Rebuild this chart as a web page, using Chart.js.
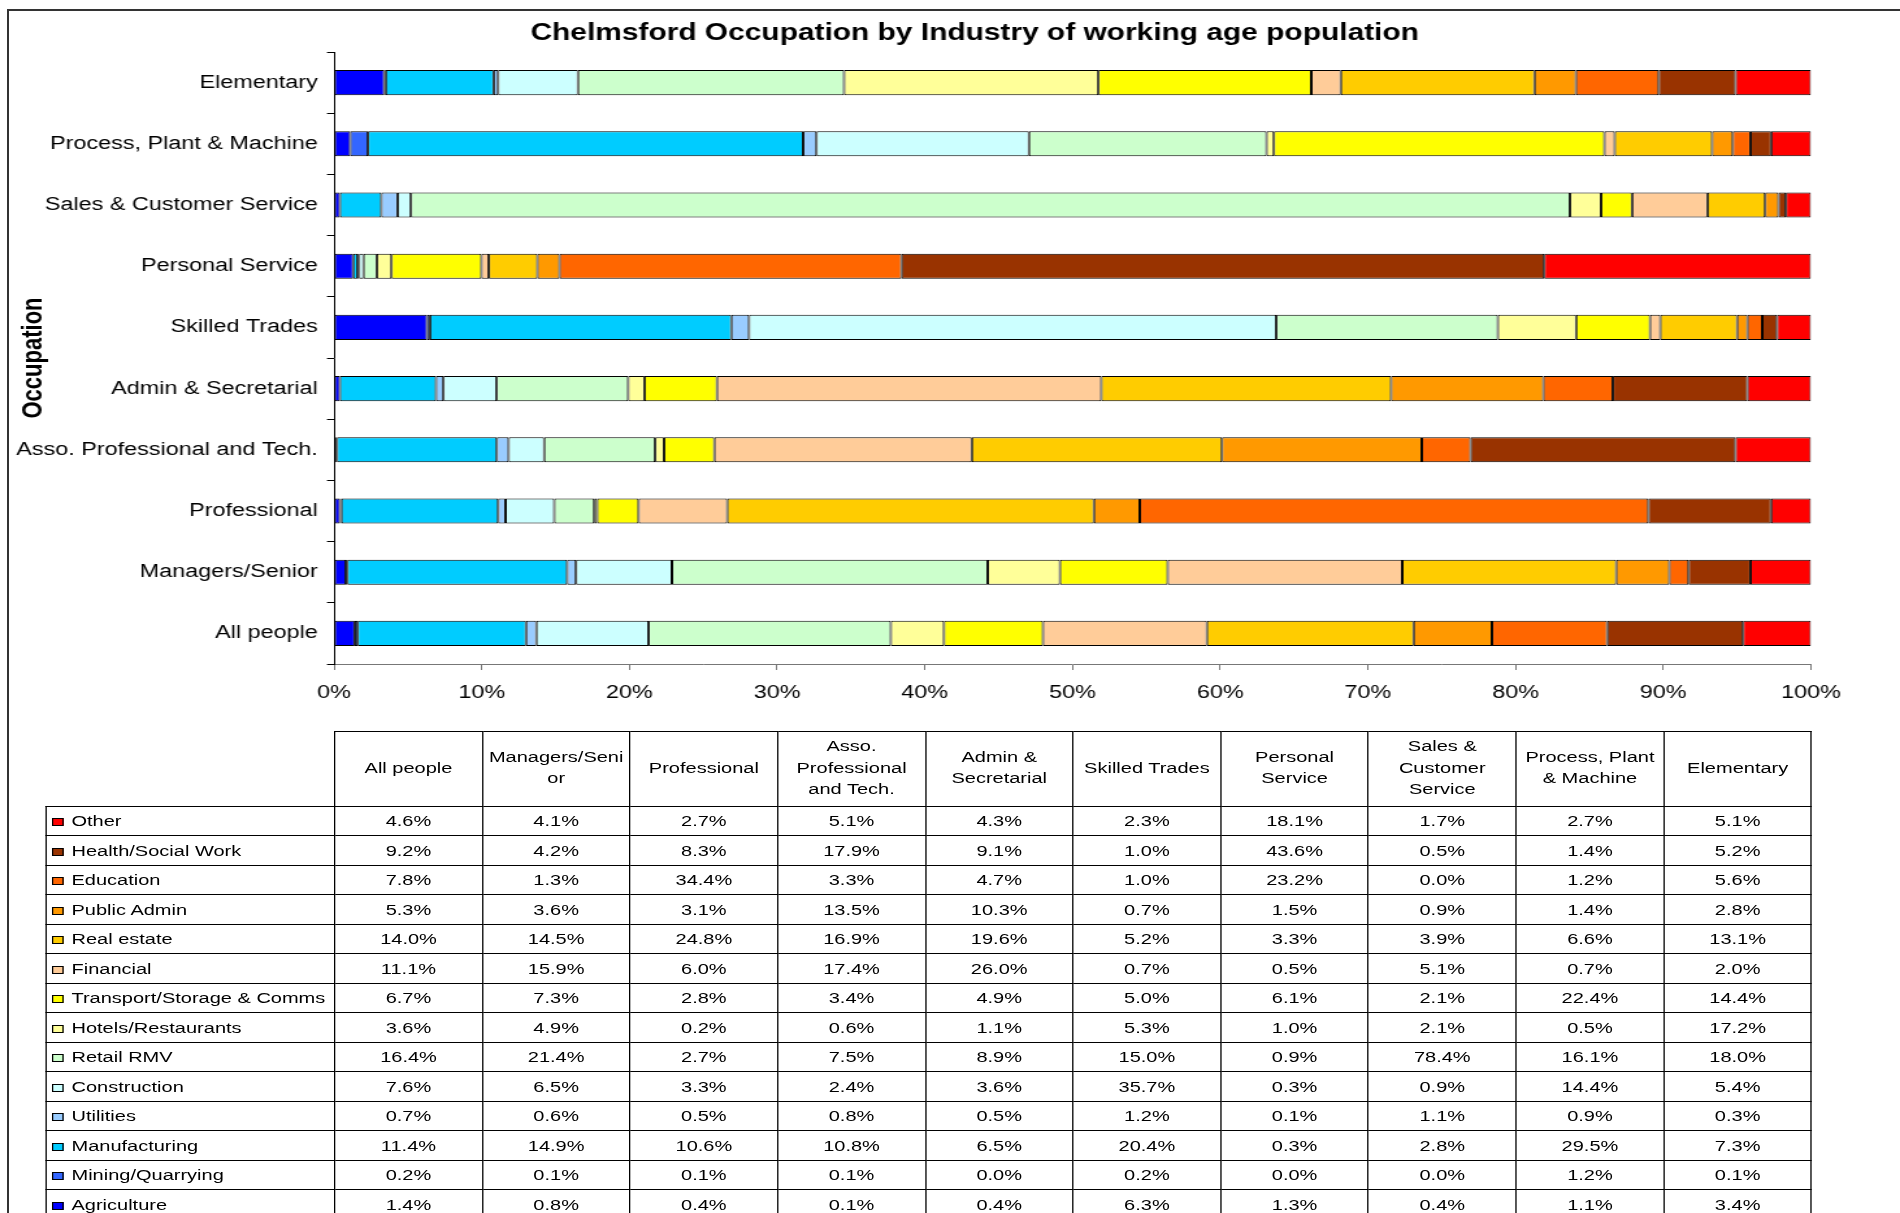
<!DOCTYPE html>
<html>
<head>
<meta charset="utf-8">
<title>Chelmsford Occupation by Industry</title>
<script src="https://cdn.jsdelivr.net/npm/chart.js@4.4.1/dist/chart.umd.min.js"></script>
<style>
    html, body { margin: 0; padding: 0; background: #fff; overflow: hidden; width: 1900px; height: 1213px; }
    /* outer chart frame (only top and left edges are visible in the picture) */
    #frame { position: absolute; left: 7px; top: 9px; width: 2000px; height: 1400px;
             border-left: 2px solid #333; border-top: 2px solid #333; }
    /* the original picture is stretched horizontally, so stretch the whole drawing */
    #stretch { position: absolute; left: 0; top: 0; width: 1462px; height: 1213px;
               transform: scaleX(1.29959); transform-origin: 0 0; }
    #chart { position: absolute; left: 0; top: 0; }
    #dataTable { position: absolute; left: 35px; top: 731px; border-collapse: collapse; table-layout: fixed;
                 font-family: "Liberation Sans", Arial, sans-serif; font-size: 15.4px; color: #000; }
    #dataTable th, #dataTable td { border: 1px solid #000; padding: 0; text-align: center; font-weight: normal; }
    #dataTable tr.head { height: 74.6px; }
    #dataTable th { line-height: 21.5px; white-space: pre-line; vertical-align: middle; padding-bottom: 3px; }
    #dataTable th.blank { border: none; }
    #dataTable tr.row { height: 29.5px; }
    #dataTable td { padding-top: 1px; }
    #dataTable td.name { text-align: left; padding-left: 4px; white-space: nowrap; }
    .key { display: inline-block; width: 7px; height: 6px; border: 1px solid #000; margin-right: 6px; vertical-align: 0px; }
</style>
</head>
<body>
<div id="frame"></div>
<div id="stretch">
    <canvas id="chart" width="1500" height="720"></canvas>
    <table id="dataTable"></table>
</div>
<script>
"use strict";

// Occupation groups, in data table order (All people is drawn at the bottom)
const occupations = ['All people', 'Managers/Senior', 'Professional', 'Asso. Professional and Tech.',
    'Admin & Secretarial', 'Skilled Trades', 'Personal Service', 'Sales & Customer Service',
    'Process, Plant & Machine', 'Elementary'];

// Column headings as they wrap in the data table
const tableHeaders = ['All people', 'Managers/Seni\nor', 'Professional', 'Asso.\nProfessional\nand Tech.',
    'Admin &\nSecretarial', 'Skilled Trades', 'Personal\nService', 'Sales &\nCustomer\nService',
    'Process, Plant\n& Machine', 'Elementary'];

// Industry series (stack order, left to right)
const industries = ['Agriculture', 'Mining/Quarrying', 'Manufacturing', 'Utilities', 'Construction',
    'Retail RMV', 'Hotels/Restaurants', 'Transport/Storage & Comms', 'Financial', 'Real estate',
    'Public Admin', 'Education', 'Health/Social Work', 'Other'];

const industryColours = ['#0000FF', '#3366FF', '#00CCFF', '#99CCFF', '#CCFFFF', '#CCFFCC', '#FFFF99',
    '#FFFF00', '#FFCC99', '#FFCC00', '#FF9900', '#FF6600', '#993300', '#FF0000'];

// Percentages per occupation (same order as occupations)
const agriculture   = [1.4, 0.8, 0.4, 0.1, 0.4, 6.3, 1.3, 0.4, 1.1, 3.4];
const mining        = [0.2, 0.1, 0.1, 0.1, 0.0, 0.2, 0.0, 0.0, 1.2, 0.1];
const manufacturing = [11.4, 14.9, 10.6, 10.8, 6.5, 20.4, 0.3, 2.8, 29.5, 7.3];
const utilities     = [0.7, 0.6, 0.5, 0.8, 0.5, 1.2, 0.1, 1.1, 0.9, 0.3];
const construction  = [7.6, 6.5, 3.3, 2.4, 3.6, 35.7, 0.3, 0.9, 14.4, 5.4];
const retail        = [16.4, 21.4, 2.7, 7.5, 8.9, 15.0, 0.9, 78.4, 16.1, 18.0];
const hotels        = [3.6, 4.9, 0.2, 0.6, 1.1, 5.3, 1.0, 2.1, 0.5, 17.2];
const transport     = [6.7, 7.3, 2.8, 3.4, 4.9, 5.0, 6.1, 2.1, 22.4, 14.4];
const financial     = [11.1, 15.9, 6.0, 17.4, 26.0, 0.7, 0.5, 5.1, 0.7, 2.0];
const realEstate    = [14.0, 14.5, 24.8, 16.9, 19.6, 5.2, 3.3, 3.9, 6.6, 13.1];
const publicAdmin   = [5.3, 3.6, 3.1, 13.5, 10.3, 0.7, 1.5, 0.9, 1.4, 2.8];
const education     = [7.8, 1.3, 34.4, 3.3, 4.7, 1.0, 23.2, 0.0, 1.2, 5.6];
const health        = [9.2, 4.2, 8.3, 17.9, 9.1, 1.0, 43.6, 0.5, 1.4, 5.2];
const other         = [4.6, 4.1, 2.7, 5.1, 4.3, 2.3, 18.1, 1.7, 2.7, 5.1];

const industryValues = [agriculture, mining, manufacturing, utilities, construction, retail, hotels,
    transport, financial, realEstate, publicAdmin, education, health, other];

Chart.defaults.font.family = '"Liberation Sans", Arial, sans-serif';
Chart.defaults.color = '#000';

// 100% stacked: scale each occupation so its bar fills the axis
const totals = occupations.map((_, i) => industryValues.reduce((sum, s) => sum + s[i], 0));

const datasets = industries.map((name, k) => ({
    label: name,
    data: industryValues[k].map((v, i) => v / totals[i] * 100),
    backgroundColor: industryColours[k],
    borderColor: '#000',
    borderWidth: 1,
    borderSkipped: false,
    barPercentage: 0.41,
    categoryPercentage: 1.0
}));

new Chart(document.getElementById('chart'), {
    type: 'bar',
    data: { labels: occupations, datasets: datasets },
    options: {
        indexAxis: 'y',
        responsive: false,
        animation: false,
        layout: { padding: 0 },
        plugins: {
            legend: { display: false },
            tooltip: { enabled: false },
            title: {
                display: true,
                text: 'Chelmsford Occupation by Industry of working age population',
                color: '#000',
                font: { size: 23, weight: 'bold' },
                padding: { top: 19.8, bottom: 4.6 }
            }
        },
        scales: {
            x: {
                stacked: true,
                min: 0,
                max: 100,
                ticks: {
                    stepSize: 10,
                    color: '#000',
                    font: { size: 18 },
                    padding: 12,
                    maxRotation: 0,
                    callback: function(value) {
                        return value + '%';
                    }
                },
                grid: { drawOnChartArea: false, tickLength: 6, color: '#777' },
                border: { color: '#777' },
                afterFit: function(scale) {
                    scale.height = 56;
                }
            },
            y: {
                stacked: true,
                reverse: true,
                ticks: { color: '#000', font: { size: 18 }, padding: 7 },
                grid: { offset: true, drawOnChartArea: false, tickLength: 5.4, color: '#000' },
                border: { color: '#000' },
                title: {
                    display: true,
                    text: 'Occupation',
                    color: '#000',
                    font: { size: 22, weight: 'bold' },
                    padding: { top: 13, bottom: 0 }
                },
                afterFit: function(scale) {
                    scale.width = 257;
                }
            },
            // empty right-hand strip, keeps the plot narrower than the title area
            yRight: {
                type: 'category',
                position: 'right',
                display: true,
                grid: { display: false },
                ticks: { display: false },
                border: { display: false },
                afterFit: function(scale) {
                    scale.width = 106.5;
                }
            }
        }
    }
});

// Data table under the chart, columns lined up with the 10% steps
function buildTable() {
    const table = document.getElementById('dataTable');
    const colWidth = (1393.5 - 257) / occupations.length;

    const colgroup = document.createElement('colgroup');
    const first = document.createElement('col');
    first.style.width = '222px';
    colgroup.appendChild(first);
    occupations.forEach(() => {
        const col = document.createElement('col');
        col.style.width = colWidth + 'px';
        colgroup.appendChild(col);
    });
    table.appendChild(colgroup);

    const head = document.createElement('tr');
    head.className = 'head';
    const blank = document.createElement('th');
    blank.className = 'blank';
    head.appendChild(blank);
    tableHeaders.forEach(text => {
        const th = document.createElement('th');
        th.textContent = text;
        head.appendChild(th);
    });
    table.appendChild(head);

    // Excel lists the series from the last one down
    for (let k = industries.length - 1; k >= 0; k--) {
        const tr = document.createElement('tr');
        tr.className = 'row';
        const name = document.createElement('td');
        name.className = 'name';
        const key = document.createElement('span');
        key.className = 'key';
        key.style.background = industryColours[k];
        name.appendChild(key);
        name.appendChild(document.createTextNode(industries[k]));
        tr.appendChild(name);
        industryValues[k].forEach(v => {
            const td = document.createElement('td');
            td.textContent = v.toFixed(1) + '%';
            tr.appendChild(td);
        });
        table.appendChild(tr);
    }
}

buildTable();
</script>
</body>
</html>
